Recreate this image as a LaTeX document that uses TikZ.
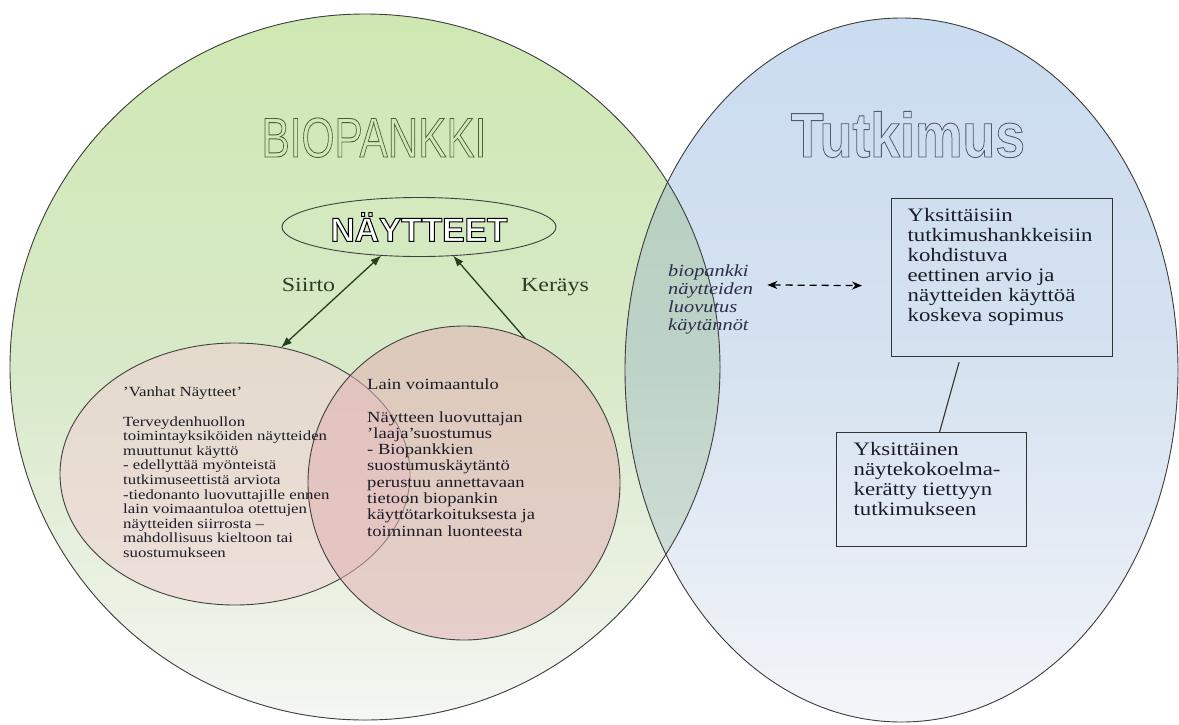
\documentclass[tikz,border=0pt]{standalone}
\usepackage{fontspec}
\setmainfont{Liberation Serif}[FakeStretch=1.2]
\newfontfamily\titlefont{Liberation Sans}
\usetikzlibrary{shapes.geometric,arrows.meta}

\definecolor{greentop}{RGB}{207,232,178}
\definecolor{greenmid}{RGB}{216,233,200}
\definecolor{greenbot}{RGB}{244,246,242}
\definecolor{bluetop}{RGB}{202,220,240}
\definecolor{bluemid}{RGB}{214,226,240}
\definecolor{bluebot}{RGB}{243,245,249}
\definecolor{lenstop}{RGB}{178,206,186}
\definecolor{lensmid}{RGB}{190,211,200}
\definecolor{lensbot}{RGB}{220,229,224}
\definecolor{oldpink}{RGB}{240,205,210}
\definecolor{newpink}{RGB}{225,178,178}
\definecolor{bodytext}{RGB}{28,28,40}
\definecolor{labelgreen}{RGB}{45,62,40}
\definecolor{arrowgreen}{RGB}{40,62,30}
\definecolor{lenstext}{RGB}{45,45,75}
\definecolor{biooutline}{RGB}{70,98,55}
\definecolor{tutoutline}{RGB}{80,90,112}

% outlined text: stroke only, and white fill with black stroke
\newcommand\outlinetext[2]{{\special{pdf:literal direct #1 w 1 Tr}#2\special{pdf:literal direct 0 Tr}}}
\newcommand\hollowtext[2]{{\color{white}\special{pdf:literal direct 0 G #1 w 2 Tr}#2\special{pdf:literal direct 0 Tr}}}

\tikzset{
	region/.style={draw=black!75, line width=0.9pt},
	sample/.style={ellipse, draw=black!75, line width=0.9pt, inner sep=0pt, outer sep=0pt},
	bodynote/.style={align=left, inner sep=0pt, anchor=north west, text=bodytext},
	infobox/.style={draw=black!80, line width=1.2pt, anchor=north west, text=bodytext},
	twoway/.style={draw=arrowgreen, line width=1.3pt, {Latex[length=11pt,width=8pt]}-{Latex[length=11pt,width=8pt]}},
	oneway/.style={draw=arrowgreen, line width=1.3pt, -{Latex[length=11pt,width=8pt]}},
	linkarrow/.style={draw=black, line width=1.3pt, dash pattern=on 7pt off 5pt, {Stealth[length=10pt,width=8pt]}-{Stealth[length=10pt,width=8pt]}}
}

\begin{document}
\begin{tikzpicture}[x=1pt, y=-1pt]
		%%%%% START %%%%%
		\useasboundingbox (0,0) rectangle (1179,724);
		\fill[white] (0,0) rectangle (1179,724);
		
		% the two big regions
		\fill[top color=greentop, bottom color=greenbot, middle color=greenmid] (365,367) ellipse [x radius=355pt, y radius=353pt];
		\fill[top color=bluetop, bottom color=bluebot, middle color=bluemid] (901.5,370) ellipse [x radius=276.5pt, y radius=352pt];
		\begin{scope}
			\clip (365,367) ellipse [x radius=355pt, y radius=353pt];
			\fill[top color=lenstop, bottom color=lensbot, middle color=lensmid] (901.5,370) ellipse [x radius=276.5pt, y radius=352pt];
		\end{scope}
		\draw[region] (365,367) ellipse [x radius=355pt, y radius=353pt];
		\draw[region] (901.5,370) ellipse [x radius=276.5pt, y radius=352pt];
		
		% titles
		\node[anchor=base, inner sep=0pt, text=biooutline] (biopankki) at (374,157) {\scalebox{0.755}[1]{\outlinetext{0.9}{\titlefont\fontsize{56}{56}\selectfont BIOPANKKI}}};
		\node[anchor=base, inner sep=0pt, text=tutoutline] (tutkimus) at (908,157) {\scalebox{0.85}[1]{\outlinetext{0.9}{\titlefont\bfseries\fontsize{63}{63}\selectfont Tutkimus}}};
		
		% samples
		\node[sample, minimum width=274pt, minimum height=59pt] (naytteet) at (419,227) {\hollowtext{1.0}{\titlefont\bfseries\fontsize{33.5}{33.5}\selectfont NÄYTTEET}};
		
		\node[sample, minimum width=350pt, minimum height=262pt, fill=oldpink, fill opacity=0.5] (vanhat) at (235,474) {};
		\node[sample, minimum width=312pt, minimum height=314pt, fill=newpink, fill opacity=0.55] (lain) at (464,483) {};
		
		\draw[twoway] (vanhat.70) -- (naytteet.217);
		\draw[oneway] (lain.67) -- (naytteet.320);
		\node[anchor=base, inner sep=0pt, text=labelgreen, font=\fontsize{20}{20}\selectfont] (siirto) at (308.5,291) {Siirto};
		\node[anchor=base, inner sep=0pt, text=labelgreen, font=\fontsize{20}{20}\selectfont] (kerays) at (555,291) {Keräys};
		
		\node[bodynote, font=\fontsize{14}{14.6}\selectfont] (vanhattxt) at (123,387) {'Vanhat Näytteet'\\[14.6pt]
			Terveydenhuollon\\
			toimintayksiköiden näytteiden\\
			muuttunut käyttö\\
			- edellyttää myönteistä\\
			tutkimuseettistä arviota\\
			-tiedonanto luovuttajille ennen\\
			lain voimaantuloa otettujen\\
			näytteiden siirrosta –\\
			mahdollisuus kieltoon tai\\
			suostumukseen};
		\node[bodynote, font=\fontsize{15.5}{16.3}\selectfont] (laintxt) at (367,378.5) {Lain voimaantulo\\[16.3pt]
			Näytteen luovuttajan\\
			'laaja'suostumus\\
			- Biopankkien\\
			suostumuskäytäntö\\
			perustuu annettavaan\\
			tietoon biopankin\\
			käyttötarkoituksesta ja\\
			toiminnan luonteesta};
		
		% research side
		\node[bodynote, text=lenstext, font=\itshape\fontsize{17}{18}\selectfont] (lens) at (668,264) {biopankki\\näytteiden\\luovutus\\käytännöt};
		
		\node[infobox, inner xsep=16pt, inner ysep=10pt] (box1) at (891,198) {\parbox[t][138pt][t]{189pt}{\raggedright\hyphenpenalty=10000\fontsize{19}{20}\selectfont
			Yksittäisiin\\
			tutkimushankkeisiin\\
			kohdistuva\\
			eettinen arvio ja\\
			näytteiden käyttöä\\
			koskeva sopimus}};
		\node[infobox, inner xsep=17pt, inner ysep=10pt] (box2) at (836,432) {\parbox[t][94pt][t]{156pt}{\raggedright\hyphenpenalty=10000\fontsize{19}{20}\selectfont
			Yksittäinen\\
			näytekokoelma-\\
			kerätty tiettyyn\\
			tutkimukseen}};
		
		\draw[linkarrow] ([shift={(14,-14)}]lens.east) -- ([shift={(-29,8)}]box1.west);
		\draw[draw=black!80, line width=1.1pt] ([shift={(-43,5)}]box1.south) -- ([shift={(8,0)}]box2.north);
		%%%%% END %%%%%
\end{tikzpicture}
\end{document}
